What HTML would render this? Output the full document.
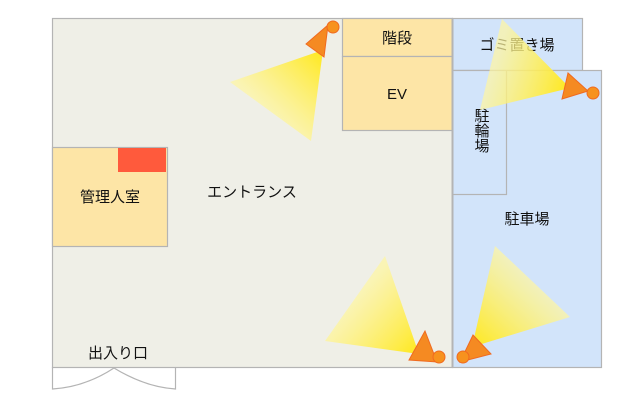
<!DOCTYPE html>
<html><head><meta charset="utf-8"><style>
html,body{margin:0;padding:0;background:#fff;}
svg{display:block;}
text{font-family:"Liberation Sans","Noto Sans CJK JP",sans-serif;font-size:15px;fill:#111;text-anchor:middle;}
</style></head><body>
<svg width="640" height="400" viewBox="0 0 640 400">
<defs>
<linearGradient id="g1" gradientUnits="userSpaceOnUse" x1="323" y1="50" x2="265" y2="110"><stop offset="0" stop-color="#ffe81a"/><stop offset="1" stop-color="#fff6a0" stop-opacity="0.7"/></linearGradient>
<linearGradient id="g2" gradientUnits="userSpaceOnUse" x1="570" y1="88" x2="495" y2="65"><stop offset="0" stop-color="#ffe81a"/><stop offset="1" stop-color="#fff6a0" stop-opacity="0.7"/></linearGradient>
<linearGradient id="g3" gradientUnits="userSpaceOnUse" x1="419" y1="354" x2="355" y2="298"><stop offset="0" stop-color="#ffe81a"/><stop offset="1" stop-color="#fff6a0" stop-opacity="0.7"/></linearGradient>
<linearGradient id="g4" gradientUnits="userSpaceOnUse" x1="472" y1="347" x2="532" y2="282"><stop offset="0" stop-color="#ffe81a"/><stop offset="1" stop-color="#fff6a0" stop-opacity="0.7"/></linearGradient>
</defs>
<g stroke="#b4b4b4" stroke-width="1.2">
<rect x="52.5" y="18.5" width="400" height="349" fill="#efefe7"/>
<rect x="452.5" y="18.5" width="130" height="52" fill="#d2e4fa"/>
<rect x="452.5" y="70.5" width="149" height="297" fill="#d2e4fa"/>
<rect x="452.5" y="70.5" width="54" height="124" fill="#d2e4fa"/>
<rect x="342.5" y="18.5" width="110" height="38" fill="#fde5a6"/>
<rect x="342.5" y="56.5" width="110" height="74" fill="#fde5a6"/>
<rect x="52.5" y="147.5" width="115" height="99" fill="#fde5a6"/>
<line x1="452.5" y1="18" x2="452.5" y2="368" stroke-width="2"/>
<path d="M52.5 367 V389 Q85 387 114 368 Q145 387 175.5 389 V367" fill="none"/>
</g>
<rect x="118" y="148" width="48" height="24" fill="#ff5a3c"/>
<text x="397" y="43">階段</text>
<text x="397" y="99">EV</text>
<text x="517" y="50">ゴミ置き場</text>
<text x="482" y="121">駐</text>
<text x="482" y="136">輪</text>
<text x="482" y="151">場</text>
<text x="527" y="224">駐車場</text>
<text x="252" y="197">エントランス</text>
<text x="110" y="202">管理人室</text>
<text x="118" y="358">出入り口</text>
<g stroke="#f06a20" stroke-width="1">
<polygon points="323,50 230,82 311,141" fill="url(#g1)" stroke="none"/>
<polygon points="306,44 328,25 324,57" fill="#f58a22"/>
<circle cx="333" cy="27" r="6" fill="#f7921e"/>
<polygon points="570,88 502,19 480,110" fill="url(#g2)" stroke="none"/>
<polygon points="568,73 562,99 588,91" fill="#f58a22"/>
<circle cx="593" cy="93" r="6" fill="#f7921e"/>
<polygon points="419,354 385,256 325,341" fill="url(#g3)" stroke="none"/>
<polygon points="425,331 409,360 437,362" fill="#f58a22"/>
<circle cx="439" cy="357" r="6" fill="#f7921e"/>
<polygon points="472,347 495,246 570,317" fill="url(#g4)" stroke="none"/>
<polygon points="473,335 491,354 460,362" fill="#f58a22"/>
<circle cx="463" cy="357" r="6" fill="#f7921e"/>
</g>
</svg>
</body></html>
